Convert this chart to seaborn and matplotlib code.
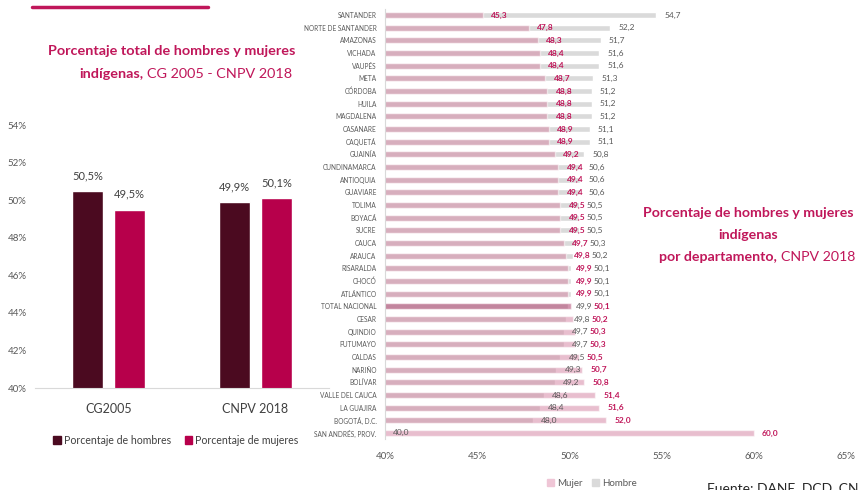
"""
Porcentaje de hombres y mujeres indígenas: total (CG 2005 - CNPV 2018)
y por departamento (CNPV 2018).
"""

import pandas as pd
import seaborn as sns
import matplotlib
matplotlib.use("Agg")
import matplotlib.pyplot as plt
from matplotlib.lines import Line2D
from matplotlib.patches import Patch

# --- datos -----------------------------------------------------------------
censos = ["CG2005", "CNPV 2018"]
pct_hombres = [50.5, 49.9]
pct_mujeres = [49.5, 50.1]

departamentos = [
    "SANTANDER", "NORTE DE SANTANDER", "AMAZONAS", "VICHADA", "VAUPÉS", "META",
    "CÓRDOBA", "HUILA", "MAGDALENA", "CASANARE", "CAQUETÁ", "GUAINÍA",
    "CUNDINAMARCA", "ANTIOQUIA", "GUAVIARE", "TOLIMA", "BOYACÁ", "SUCRE",
    "CAUCA", "ARAUCA", "RISARALDA", "CHOCÓ", "ATLÁNTICO", "TOTAL NACIONAL",
    "CESAR", "QUINDIO", "PUTUMAYO", "CALDAS", "NARIÑO", "BOLÍVAR",
    "VALLE DEL CAUCA", "LA GUAJIRA", "BOGOTÁ, D.C.", "SAN ANDRÉS, PROV.",
]
dep_mujer = [
    45.3, 47.8, 48.3, 48.4, 48.4, 48.7, 48.8, 48.8, 48.8, 48.9, 48.9, 49.2,
    49.4, 49.4, 49.4, 49.5, 49.5, 49.5, 49.7, 49.8, 49.9, 49.9, 49.9, 50.1,
    50.2, 50.3, 50.3, 50.5, 50.7, 50.8, 51.4, 51.6, 52.0, 60.0,
]
dep_hombre = [
    54.7, 52.2, 51.7, 51.6, 51.6, 51.3, 51.2, 51.2, 51.2, 51.1, 51.1, 50.8,
    50.6, 50.6, 50.6, 50.5, 50.5, 50.5, 50.3, 50.2, 50.1, 50.1, 50.1, 49.9,
    49.8, 49.7, 49.7, 49.5, 49.3, 49.2, 48.6, 48.4, 48.0, 40.0,
]

# --- colores ---------------------------------------------------------------
C_HOMBRE = "#4b0a20"
C_MUJER = "#b7004b"
C_TITULO = "#c0175a"
C_GRIS_TXT = "#595959"
C_BAR_H = "#dadada"
C_BAR_M = "#d68aa6"
C_BAR_TOTAL = "#b0406e"

W, H = 859, 490


def fx(px):
    return px / W


def fy(py):
    return 1 - py / H


def coma(v, dec=1):
    return f"{v:.{dec}f}".replace(".", ",")


sns.set_style("white")
plt.rcParams["font.family"] = ["Lato", "DejaVu Sans"]

fig = plt.figure(figsize=(W / 100, H / 100), dpi=100)

# --- gráfico izquierdo -----------------------------------------------------
ax1 = fig.add_axes([fx(35), fy(388), fx(294), 263 / H])
df1 = pd.DataFrame({
    "censo": censos * 2,
    "sexo": ["Porcentaje de hombres"] * 2 + ["Porcentaje de mujeres"] * 2,
    "valor": pct_hombres + pct_mujeres,
})
sns.barplot(data=df1, x="censo", y="valor", hue="sexo",
            palette=[C_HOMBRE, C_MUJER], width=0.57, gap=0.24,
            saturation=1, ax=ax1, legend=False)
ax1.set_ylim(40, 54)
ax1.set_yticks(range(40, 55, 2))
ax1.set_yticklabels([f"{t}%" for t in range(40, 55, 2)],
                    fontsize=7, color=C_GRIS_TXT)
ax1.tick_params(axis="x", labelsize=9, colors="#404040", pad=11, length=0)
ax1.tick_params(axis="y", length=0, pad=6)
ax1.set_xlabel("")
ax1.set_ylabel("")
for s in ["top", "right", "left"]:
    ax1.spines[s].set_visible(False)
ax1.spines["bottom"].set_color("#d9d9d9")
for cont, vals in zip(ax1.containers, [pct_hombres, pct_mujeres]):
    ax1.bar_label(cont, labels=[coma(v) + "%" for v in vals],
                  padding=7, fontsize=8, color="#404040")

fig.legend(handles=[Patch(color=C_HOMBRE), Patch(color=C_MUJER)],
           labels=["Porcentaje de hombres", "Porcentaje de mujeres"],
           loc="center", bbox_to_anchor=(fx(176), fy(440)), ncol=2,
           frameon=False, fontsize=7.6, handlelength=0.7, handleheight=0.7,
           handletextpad=0.3, columnspacing=1.3, labelcolor="#404040")

# --- gráfico derecho -------------------------------------------------------
ax2 = fig.add_axes([fx(385), fy(439.3), fx(461), 430.6 / H])
df2 = pd.DataFrame({"dep": departamentos, "mujer": dep_mujer,
                    "hombre": dep_hombre})
sns.barplot(data=df2, y="dep", x="hombre", color=C_BAR_H, width=0.47,
            orient="h", saturation=1, ax=ax2)
pal = [C_BAR_TOTAL if d == "TOTAL NACIONAL" else C_BAR_M for d in departamentos]
sns.barplot(data=df2, y="dep", x="mujer", hue="dep", palette=pal,
            width=0.47, orient="h", alpha=0.55, saturation=1,
            legend=False, ax=ax2)
ax2.set_xlim(40, 65)
ax2.set_xticks(range(40, 66, 5))
ax2.set_xticklabels([f"{t}%" for t in range(40, 66, 5)],
                    fontsize=7, color=C_GRIS_TXT)
ax2.tick_params(axis="y", labelsize=4.7, colors=C_GRIS_TXT, length=0, pad=6)
ax2.tick_params(axis="x", length=0, pad=9)
ax2.set_xlabel("")
ax2.set_ylabel("")
for s in ["top", "right", "bottom"]:
    ax2.spines[s].set_visible(False)
ax2.spines["left"].set_color("#d9d9d9")

# etiquetas: la del valor menor va al final de su barra; la otra se corre
# a la derecha si no cabe (como en el original, que usa líneas guía)
PAD, ANCHO = 0.45, 0.95
for i, (m, h) in enumerate(zip(dep_mujer, dep_hombre)):
    x_lo = min(m, h) + PAD
    x_hi = max(max(m, h) + PAD, x_lo + ANCHO)
    x_m, x_h = (x_lo, x_hi) if m <= h else (x_hi, x_lo)
    ax2.text(x_h, i, coma(h), va="center", ha="left",
             fontsize=6, color=C_GRIS_TXT)
    ax2.text(x_m, i, coma(m), va="center", ha="left",
             fontsize=6, color=C_TITULO, fontweight="bold")

fig.legend(handles=[Patch(color="#efc6d6"), Patch(color=C_BAR_H)],
           labels=["Mujer", "Hombre"], loc="center",
           bbox_to_anchor=(fx(592), fy(483)), ncol=2, frameon=False,
           fontsize=7, handlelength=0.7, handleheight=0.7,
           handletextpad=0.3, columnspacing=1.0, labelcolor=C_GRIS_TXT)

# --- títulos y adornos -----------------------------------------------------
fig.add_artist(Line2D([fx(32), fx(208)], [fy(7), fy(7)],
                      color=C_TITULO, lw=2.5))

fig.text(fx(172), fy(51), "Porcentaje total de hombres y mujeres",
         ha="center", va="center", fontsize=10.4, fontweight="bold",
         color=C_TITULO)
fig.text(fx(143), fy(74), "indígenas,", ha="right", va="center",
         fontsize=10.4, fontweight="bold", color=C_TITULO)
fig.text(fx(147), fy(74), "CG 2005 - CNPV 2018", ha="left", va="center",
         fontsize=10.4, color=C_TITULO)

fig.text(fx(748), fy(213), "Porcentaje de hombres y mujeres",
         ha="center", va="center", fontsize=10.2, fontweight="bold",
         color=C_TITULO)
fig.text(fx(748), fy(235), "indígenas", ha="center", va="center",
         fontsize=10.2, fontweight="bold", color=C_TITULO)
fig.text(fx(777), fy(257), "por departamento,", ha="right", va="center",
         fontsize=10.2, fontweight="bold", color=C_TITULO)
fig.text(fx(781), fy(257), "CNPV 2018", ha="left", va="center",
         fontsize=10.2, color=C_TITULO)

fig.text(fx(707), fy(482), "Fuente: DANE, DCD, CNPV 2018", ha="left",
         va="top", fontsize=10, color="#262626")

fig.savefig("out.png", dpi=100)
plt.close(fig)
